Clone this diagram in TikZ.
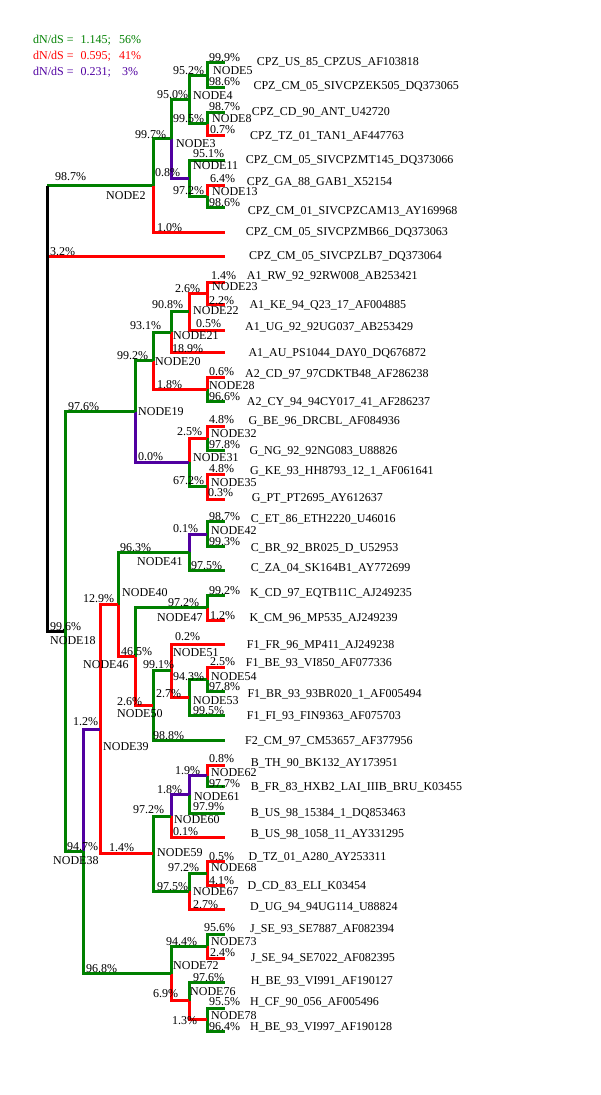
\documentclass[tikz,border=0pt]{standalone}
\usepackage{fontspec}
\setmainfont{Liberation Serif}
\definecolor{selgreen}{RGB}{0,128,0}
\definecolor{selred}{RGB}{255,0,0}
\definecolor{selpurple}{RGB}{80,0,160}
\begin{document}
\begin{tikzpicture}[x=1pt,y=-1pt,
    branch/.style={line width=3pt},
    bgreen/.style={branch,draw=selgreen}, bred/.style={branch,draw=selred}, bpurple/.style={branch,draw=selpurple}, broot/.style={branch,draw=black},
    lab/.style={inner sep=0pt,anchor=base west,font=\fontsize{12}{14}\selectfont},]
    \useasboundingbox (0,0) rectangle (600,1095);
    \coordinate (r) at (47,409);
    \foreach \n/\x/\y in {5/207/75, 8/207/123.5, 4/189/99.2, 13/207/196.3, 11/189/178.2, 3/171/138.7, 2/153/185.5,
        23/207/293.2, 22/189/311.6, 21/171/332.2, 28/207/389.3, 20/153/360.7, 32/207/438, 35/207/486.7, 31/189/462.3, 19/135/411.5,
        42/207/534.2, 41/189/552.4, 47/207/607.8, 54/207/679.7, 53/189/697.3, 51/171/670.7, 50/153/705.3, 46/135/656.6, 40/118/604.5,
        62/207/775.8, 61/189/794.6, 60/171/816.1, 68/207/873.3, 67/189/891.3, 59/153/853.7, 39/100/729.1,
        73/207/946.3, 78/207/1019.5, 76/189/1000.9, 72/171/973.6, 38/83/851.3, 18/65/631.4}
        \coordinate (n\n) at (\x,\y);
    \foreach \y [count=\i] in {62.7,87.3,112,135,160,185,207.7,232.3,256.7,282,304.5,330,352.7,377.7,401,426,450,474,499.3,521.7,546.7,570.7,595.7,620,644,667.7,691.7,715,740,765,786.7,813.3,837.7,861.7,885,909.3,934.3,958.3,982.3,1008,1031}
        \coordinate (l\i) at (225,\y);
    \draw[bgreen] (r |- n2) -- (n2);
    \draw[bred] (r |- l9) -- (l9);
    \draw[broot] (r |- n2) -- (r |- n18) -- (n18);
    \foreach \a/\b/\c in {n5/l1/bgreen, n5/l2/bgreen, n4/n5/bgreen, n8/l3/bgreen, n8/l4/bred, n4/n8/bgreen, n3/n4/bgreen, n13/l6/bred, n13/l7/bgreen, n11/l5/bgreen, n11/n13/bgreen, n3/n11/bpurple, n2/n3/bgreen, n2/l8/bred,
        n23/l10/bred, n23/l11/bred, n22/n23/bred, n22/l12/bred, n21/n22/bgreen, n21/l13/bred, n20/n21/bgreen, n28/l14/bred, n28/l15/bgreen, n20/n28/bred, n19/n20/bgreen, n32/l16/bred, n32/l17/bgreen, n31/n32/bred, n35/l18/bred, n35/l19/bred, n31/n35/bgreen, n19/n31/bpurple, n18/n19/bgreen,
        n42/l20/bgreen, n42/l21/bgreen, n41/n42/bpurple, n41/l22/bgreen, n40/n41/bgreen, n47/l23/bgreen, n47/l24/bred, n46/n47/bgreen, n54/l26/bred, n54/l27/bgreen, n53/n54/bgreen, n53/l28/bgreen, n51/l25/bred, n51/n53/bred, n50/n51/bgreen, n50/l29/bgreen, n46/n50/bred, n40/n46/bred, n39/n40/bred,
        n62/l30/bred, n62/l31/bgreen, n61/n62/bpurple, n61/l32/bgreen, n60/n61/bpurple, n60/l33/bred, n59/n60/bgreen, n68/l34/bred, n68/l35/bred, n67/n68/bgreen, n67/l36/bred, n59/n67/bgreen, n39/n59/bred, n38/n39/bpurple,
        n73/l37/bgreen, n73/l38/bred, n72/n73/bgreen, n76/l39/bgreen, n78/l40/bgreen, n78/l41/bgreen, n76/n78/bred, n72/n76/bred, n38/n72/bgreen, n18/n38/bgreen}
        \draw[\c] (\a) |- (\b);
    \node[lab,text=selgreen] (leg1) at (33,43) {dN/dS =\hspace{4pt} 1.145;};
    \node[lab,anchor=base,text=selgreen] (legp1) at (130,43) {56\%};
    \node[lab,text=selred] (leg2) at (33,59) {dN/dS =\hspace{4pt} 0.595;};
    \node[lab,anchor=base,text=selred] (legp2) at (130,59) {41\%};
    \node[lab,text=selpurple] (leg3) at (33,75) {dN/dS =\hspace{4pt} 0.231;};
    \node[lab,anchor=base,text=selpurple] (legp3) at (130,75) {3\%};
    \foreach \x/\y/\t [count=\i] in {209/61/99.9, 209/85.7/98.6, 173/74/95.2, 157/98/95.0, 209/110/98.7, 173/122/99.5, 210/133/0.7, 135/138/99.7, 193/157.3/95.1, 155/176.7/0.8, 210/182.3/6.4, 173/194/97.2, 209/206.3/98.6, 55/180.7/98.7, 157/231.3/1.0, 50/255.7/3.2,
        211/279/1.4, 175/292.3/2.6, 209/304/2.2, 152/308/90.8, 196/327.3/0.5, 130/329.7/93.1, 172/352.3/18.9, 117/359/99.2, 209/375.7/0.6, 157/388.3/1.8, 209/400.7/96.6, 68/410.7/97.6,
        209/423/4.8, 177/435.7/2.5, 209/448.3/97.8, 138/460.7/0.0, 209/472.3/4.8, 173/484.7/67.2, 208/496.7/0.3,
        209/520.7/98.7, 173/532.3/0.1, 209/545.7/99.3, 120/551.7/96.3, 191/569.7/97.5, 209/594/99.2, 83/602.3/12.9, 168/606.7/97.2, 210/619/1.2, 50/630.7/99.6,
        175/640.7/0.2, 121/655.7/46.5, 210/665.7/2.5, 143/668.3/99.1, 173/680/94.3, 209/690.7/97.8, 156/697.3/2.7, 117/705/2.6, 193/714/99.5, 153/739/98.8, 73/725.7/1.2,
        209/762.3/0.8, 175/774/1.9, 209/787.3/97.7, 157/793/1.8, 193/810/97.9, 133/813.3/97.2, 173/835.7/0.1, 67/850/94.7, 109/851.3/1.4,
        209/860/0.5, 168/871.3/97.2, 209/884/4.1, 157/890.7/97.5, 193/908.3/2.7, 204/931.7/95.6, 166/945/94.4, 210/956.7/2.4, 86/972.3/96.8,
        193/981.3/97.6, 153/997.3/6.9, 209/1005.7/95.5, 172/1024/1.3, 209/1030/96.4}
        \node[lab] (b\i) at (\x,\y) {\t\%};
    \foreach \x/\y/\t in {213/74.7/5, 193/99/4, 212/122.8/8, 176/147.3/3, 193/169/11, 212/195/13, 106/199/2,
        212/290.7/23, 193/314.7/22, 173/339/21, 155/365.7/20, 209/389/28, 138/415/19, 211/437.3/32, 193/461.3/31, 211/486.3/35,
        211/534/42, 137/565/41, 122/596.3/40, 157/621.7/47, 50/644.7/18, 173/656.3/51, 83/668.3/46, 211/680.7/54, 193/704/53, 117/717.3/50, 103/750.7/39,
        211/776.3/62, 194/800/61, 174/823.3/60, 157/856.7/59, 53/864.7/38, 211/871.7/68, 193/895/67, 211/945/73, 173/969.7/72, 190/995.7/76, 211/1019/78}
        \node[lab] (NODE\t) at (\x,\y) {NODE\t};
    \foreach \x/\y/\t [count=\i] in {256.7/65.7/CPZ\_US\_85\_CPZUS\_AF103818, 253.3/89.7/CPZ\_CM\_05\_SIVCPZEK505\_DQ373065, 251.7/115/CPZ\_CD\_90\_ANT\_U42720, 250/139.7/CPZ\_TZ\_01\_TAN1\_AF447763,
        245.7/163.3/CPZ\_CM\_05\_SIVCPZMT145\_DQ373066, 246.7/185.7/CPZ\_GA\_88\_GAB1\_X52154, 247.7/214/CPZ\_CM\_01\_SIVCPZCAM13\_AY169968, 245.7/235.7/CPZ\_CM\_05\_SIVCPZMB66\_DQ373063,
        249/259.7/CPZ\_CM\_05\_SIVCPZLB7\_DQ373064, 246.7/279/A1\_RW\_92\_92RW008\_AB253421, 249.3/308/A1\_KE\_94\_Q23\_17\_AF004885, 245/330/A1\_UG\_92\_92UG037\_AB253429,
        248.3/356.7/A1\_AU\_PS1044\_DAY0\_DQ676872, 245/377.3/A2\_CD\_97\_97CDKTB48\_AF286238, 246.7/405/A2\_CY\_94\_94CY017\_41\_AF286237, 248.3/424/G\_BE\_96\_DRCBL\_AF084936,
        249.3/454/G\_NG\_92\_92NG083\_U88826, 250/474.7/G\_KE\_93\_HH8793\_12\_1\_AF061641, 251.7/501.7/G\_PT\_PT2695\_AY612637, 250.7/522.3/C\_ET\_86\_ETH2220\_U46016,
        250.7/551.3/C\_BR\_92\_BR025\_D\_U52953, 250.7/571.3/C\_ZA\_04\_SK164B1\_AY772699, 250/596.3/K\_CD\_97\_EQTB11C\_AJ249235, 249.3/621.7/K\_CM\_96\_MP535\_AJ249239,
        246.7/648/F1\_FR\_96\_MP411\_AJ249238, 245.7/666.7/F1\_BE\_93\_VI850\_AF077336, 247.3/697.3/F1\_BR\_93\_93BR020\_1\_AF005494, 246.7/719/F1\_FI\_93\_FIN9363\_AF075703,
        245/744/F2\_CM\_97\_CM53657\_AF377956, 250.7/766.3/B\_TH\_90\_BK132\_AY173951, 250.7/790.7/B\_FR\_83\_HXB2\_LAI\_IIIB\_BRU\_K03455, 250.7/816.3/B\_US\_98\_15384\_1\_DQ853463,
        250.7/837.3/B\_US\_98\_1058\_11\_AY331295, 248.3/860.7/D\_TZ\_01\_A280\_AY253311, 247.3/889/D\_CD\_83\_ELI\_K03454, 250/910/D\_UG\_94\_94UG114\_U88824,
        250/932.3/J\_SE\_93\_SE7887\_AF082394, 250.7/961.7/J\_SE\_94\_SE7022\_AF082395, 250.7/984/H\_BE\_93\_VI991\_AF190127, 250/1005.7/H\_CF\_90\_056\_AF005496, 250/1030/H\_BE\_93\_VI997\_AF190128}
        \node[lab] (tx\i) at (\x,\y) {\t};
\end{tikzpicture}
\end{document}
